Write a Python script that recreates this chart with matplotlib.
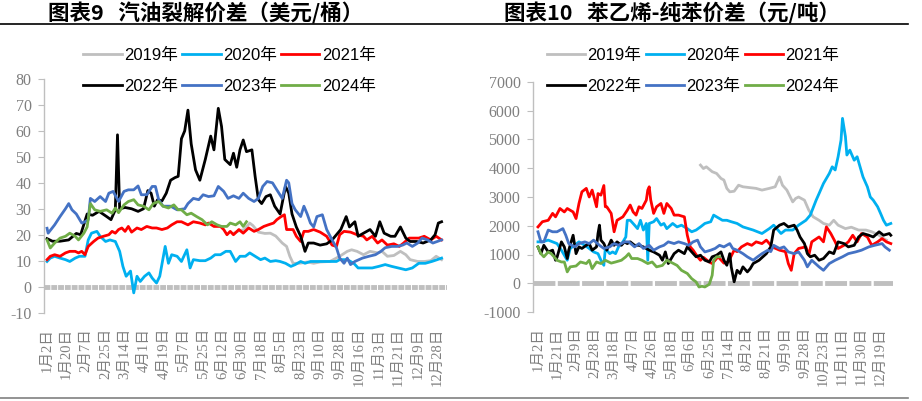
import numpy as np
import matplotlib.pyplot as plt
from matplotlib.lines import Line2D

plt.rcParams['axes.unicode_minus'] = False

# ---------------- data ----------------
years = ['2019年', '2020年', '2021年', '2022年', '2023年', '2024年']
colors = ['#BFBFBF', '#00B0F0', '#FF0000', '#000000', '#4472C4', '#70AD47']

# 图表9 汽油裂解价差 (美元/桶), x = days since 1月2日
gas_labels = ['1月2日', '1月20日', '2月7日', '2月25日', '3月14日', '4月1日', '4月19日',
              '5月7日', '5月25日', '6月12日', '6月30日', '7月18日', '8月5日', '8月23日',
              '9月10日', '9月28日', '10月16日', '11月3日', '11月21日', '12月9日', '12月28日']
gas_label_step = 18

gas_days_2019 = [172, 177, 182, 187, 190, 195, 201, 206, 211, 217, 221, 224, 227, 233, 240, 246,
                 252, 261, 270, 277, 281, 286, 292, 298, 305, 309, 314, 320, 326, 331, 335, 342,
                 348, 354, 359, 364]
gas_2019 = [20.5, 21.5, 22, 24.5, 23.5, 21, 20.5, 20.6, 19.5, 16.8, 15.5, 11.7, 9, 9, 9.5, 9,
            9.5, 9.7, 11.7, 13.6, 14.2, 13.6, 12.3, 13.6, 13, 13.6, 11.7, 12, 13.6, 12.3, 10.4, 9.7,
            9.7, 10, 11.7, 10.4]

gas_days_2020 = [0, 3, 7, 12, 17, 21, 26, 30, 35, 38, 41, 46, 49, 54, 58, 63, 67, 70, 73, 77,
                 80, 83, 86, 90, 94, 97, 101, 104, 109, 112, 115, 120, 124, 129, 132, 135, 141,
                 146, 151, 155, 160, 165, 169, 174, 178, 183, 187, 192, 197, 201, 206, 211, 215,
                 220, 225, 229, 234, 238, 243, 255, 267, 270, 277, 283, 287, 294, 300, 306, 312,
                 318, 324, 331, 337, 343, 349, 355, 360, 364]
gas_2020 = [9.7, 11, 11.7, 11, 10.4, 9.7, 11, 11.7, 11.7, 18, 20.6, 21.3, 19.4, 17.4, 18, 17.4,
            13.6, 7.8, 4, 6, -2.4, 4, 2, 4, 5.3, 3.3, 1.4, 4, 15.5, 9, 12.3, 11.7, 9.7, 14.2, 7.2,
            10.4, 10, 10, 11, 12.3, 12.3, 13.6, 13.6, 9.7, 11.7, 11.7, 13, 11.7, 10.4, 11, 9.7, 10,
            9.7, 9, 7.8, 8.5, 9.7, 9, 9.7, 9.7, 9.7, 10.4, 10.4, 9, 7.2, 7.2, 7.2, 7.8, 8.5, 7.8,
            7.2, 6.5, 7.2, 9, 9, 9.7, 10.4, 11]

gas_days_2021 = [0, 3, 7, 12, 17, 21, 26, 29, 32, 35, 38, 43, 47, 52, 57, 60, 63, 66, 69, 72,
                 75, 78, 83, 87, 92, 97, 101, 106, 111, 115, 120, 124, 130, 135, 141, 146, 149,
                 154, 160, 163, 166, 169, 172, 177, 181, 186, 191, 195, 200, 204, 209, 212, 216,
                 219, 221, 227, 230, 234, 237, 241, 246, 252, 258, 263, 267, 270, 274, 280, 286,
                 292, 295, 300, 305, 309, 314, 320, 325, 329, 334, 338, 343, 348, 354, 359, 364]
gas_2021 = [10.4, 11.7, 12.3, 11.7, 13, 13.6, 13.6, 13, 13.6, 12.3, 15.5, 17.4, 18.7, 19.4, 20,
            21.3, 20.6, 22, 22.6, 21.3, 23.2, 21, 22.6, 22, 23.2, 22.6, 22.6, 22, 22.6, 23.8, 25,
            25, 23.8, 25, 24.5, 23.8, 24.5, 23.2, 23.2, 22, 20, 21.3, 20, 22, 20.6, 22.6, 21.3,
            22, 23.2, 23.8, 24.5, 25.8, 27, 27.7, 22, 22, 19.4, 17.4, 21.3, 21.3, 22, 21, 19.4,
            16, 15.5, 20, 21.3, 21, 20, 19.4, 18, 19.4, 16.8, 18, 16, 16.5, 15.5, 16.8, 18.7,
            18.7, 18.7, 19.4, 18, 19.4, 18]

gas_days_2022 = [0, 5, 12, 20, 27, 31, 37, 42, 48, 55, 59, 63, 65, 67, 72, 78, 84, 89, 93, 96,
                 99, 102, 106, 110, 114, 118, 121, 124, 127, 130, 133, 137, 141, 146, 151, 154,
                 158, 161, 164, 169, 172, 175, 178, 181, 184, 189, 192, 195, 198, 202, 206, 210,
                 215, 220, 223, 226, 230, 234, 238, 241, 246, 252, 258, 263, 267, 271, 276, 279,
                 284, 287, 292, 298, 303, 307, 311, 317, 321, 326, 331, 335, 341, 347, 354, 358,
                 361, 364]
gas_2022 = [18.5, 17.5, 17.5, 18, 20.5, 20, 28, 27.5, 29, 27, 25.8, 29.6, 58.5, 30, 30.5, 30,
            29, 30, 37, 36, 31, 33.5, 33, 36, 41, 42, 42.5, 57, 60, 68, 55, 45, 41, 49, 58, 52.7,
            68.7, 61.7, 49, 47, 51.4, 46, 52.7, 56.5, 52, 52.7, 42.4, 33.5, 32, 34.7, 35.4, 31,
            28, 38.6, 36, 28, 23, 19.4, 13.6, 16.8, 16.8, 16, 16.5, 18, 20, 22, 27, 23, 25,
            19.4, 20.6, 22, 19.4, 25, 20.6, 19.4, 19.4, 23, 18.7, 17.4, 17.4, 16.8, 18, 20,
            24.5, 25]

gas_days_2023 = [0, 1, 7, 12, 17, 20, 23, 27, 32, 35, 38, 40, 44, 49, 54, 57, 61, 66, 71, 75,
                 80, 84, 87, 92, 97, 100, 103, 107, 114, 120, 127, 130, 135, 140, 144, 149, 154,
                 158, 163, 167, 172, 177, 181, 186, 191, 195, 199, 203, 208, 212, 217, 221, 223,
                 226, 229, 234, 237, 240, 243, 246, 249, 254, 258, 263, 267, 270, 274, 277, 280,
                 284, 291, 297, 303, 308, 312, 318, 323, 328, 332, 337, 342, 346, 351, 356, 360,
                 364]
gas_2023 = [22.5, 20.6, 23.8, 27, 30, 32, 29.6, 28, 24.5, 25, 25.8, 34, 32.8, 34.7, 32.8, 36,
            36.7, 32.8, 36.7, 37.3, 37.3, 38.8, 35.4, 35.4, 38.6, 38.6, 33.5, 31, 31, 29.6, 30,
            32, 34, 33.5, 35.4, 34.7, 35, 38.6, 36.7, 34, 35, 34, 36, 34, 32.8, 34, 38.6, 40.5,
            40, 37.3, 34, 41, 40, 32, 29.6, 27, 31, 28, 24.5, 23, 27, 27.7, 22, 18, 15, 11, 9,
            11, 8.5, 9.7, 11, 11.7, 12.3, 13.6, 15, 15.5, 15.5, 16, 16.8, 15.5, 16.8, 18.7, 18,
            16.8, 17.4, 18]

gas_days_2024 = [0, 3, 7, 12, 17, 21, 26, 29, 34, 37, 40, 44, 49, 55, 60, 63, 66, 71, 75, 80,
                 84, 89, 94, 98, 103, 107, 112, 117, 121, 124, 129, 133, 138, 143, 148, 152, 157,
                 161, 166, 169, 174, 178, 181, 184]
gas_2024 = [18, 14.9, 16.8, 18.7, 19.4, 20.6, 19.4, 18, 20.6, 23, 32, 29.6, 29, 29.6, 28.3,
            30.3, 28.5, 31.5, 32.8, 33.5, 31.5, 31, 29.6, 32, 32.8, 31, 30.3, 31.5, 29.6, 29.6,
            27.7, 28.3, 27, 25.8, 23.8, 25, 23.8, 23.2, 23.2, 24.5, 23.8, 25, 23.2, 25]

# 图表10 苯乙烯-纯苯价差 (元/吨), x = trading day index
sty_labels = ['1月2日', '1月21日', '2月9日', '2月28日', '3月18日', '4月7日', '4月26日',
              '5月18日', '6月6日', '6月25日', '7月14日', '8月2日', '8月21日', '9月9日',
              '9月28日', '10月23日', '11月11日', '11月30日', '12月19日']
sty_label_step = 13

sty_idx_2019 = [111, 113, 115, 119, 122, 125, 127, 129, 131, 134, 137, 140, 144, 149, 153, 158,
                162, 165, 167, 170, 174, 176, 178, 182, 185, 188, 192, 195, 199, 202, 205, 210,
                214, 219, 224, 228, 233, 236, 238]
sty_2019 = [4110, 3990, 4050, 3880, 3820, 3645, 3590, 3300, 3180, 3200, 3410, 3355, 3330, 3300,
            3240, 3300, 3355, 3700, 3410, 3240, 2830, 2950, 3000, 2890, 2540, 2310, 2190, 2080,
            2020, 2190, 2020, 1900, 1950, 1850, 1850, 1790, 1670, 1555, 1500]

sty_idx_2020 = [0, 3, 7, 10, 13, 16, 18, 20, 22, 25, 28, 32, 35, 38, 41, 43, 45, 46, 49, 51,
                53, 55, 58, 60, 61, 63, 66, 68, 70, 72, 74, 75, 76, 79, 81, 84, 86, 88, 92, 95,
                98, 102, 105, 108, 111, 114, 118, 120, 122, 126, 129, 132, 136, 140, 147, 153,
                158, 161, 166, 169, 174, 178, 183, 186, 190, 192, 195, 199, 201, 203, 205, 207,
                208, 210, 211, 213, 216, 218, 220, 222, 225, 227, 229, 232, 234, 236, 238, 241]
sty_2020 = [1440, 1440, 1500, 1440, 1380, 1150, 975, 800, 1210, 1320, 1440, 1320, 1210, 1090,
            1030, 800, 625, 1210, 1030, 1090, 1030, 1265, 1440, 1610, 2190, 2190, 2020, 1900,
            2190, 1850, 2080, 800, 2080, 2140, 2250, 2020, 2080, 1900, 2080, 1960, 2020, 1900,
            1790, 1850, 1960, 2080, 2140, 2370, 2310, 2190, 2190, 2140, 2080, 1960, 1850, 1730,
            1900, 2020, 1730, 1850, 1850, 2020, 2190, 2370, 2890, 3120, 3470, 3820, 4050, 3940,
            4400, 4980, 5735, 5100, 4460, 4630, 4280, 4400, 4050, 3700, 3355, 3000, 2890, 2660,
            2430, 2190, 2020, 2080]

sty_idx_2021 = [0, 3, 7, 10, 12, 15, 18, 20, 24, 26, 28, 30, 33, 35, 37, 40, 41, 43, 45, 46,
                47, 50, 52, 54, 58, 61, 63, 65, 67, 69, 71, 74, 75, 76, 77, 79, 81, 84, 86, 88,
                91, 93, 96, 100, 102, 104, 106, 109, 111, 113, 117, 119, 121, 123, 127, 130, 134,
                136, 139, 143, 146, 149, 153, 156, 160, 165, 169, 171, 173, 175, 178, 183, 185,
                187, 192, 195, 197, 200, 203, 205, 209, 212, 215, 218, 221, 225, 228, 232, 235,
                238, 241]
sty_2021 = [1960, 2140, 2190, 2430, 2310, 2600, 2480, 2600, 2480, 2250, 2775, 3180, 3300, 3000,
            3240, 2660, 3120, 3065, 3400, 2660, 2660, 2430, 1790, 2190, 2310, 2540, 2720, 2480,
            2370, 2660, 2600, 2890, 3240, 3355, 2900, 2430, 2660, 2775, 2430, 2775, 2600, 2370,
            2370, 2310, 1670, 1265, 1150, 920, 800, 900, 740, 685, 800, 920, 700, 740, 1150,
            1100, 1265, 1380, 1320, 1440, 1380, 1500, 1265, 1150, 1100, 685, 450, 1030, 1210,
            1265, 975, 1440, 1610, 1440, 1960, 1730, 1440, 1210, 1320, 1440, 1670, 1440, 1730,
            1610, 1320, 1440, 1555, 1440, 1380]

sty_idx_2022 = [0, 2, 4, 7, 10, 12, 13, 16, 18, 20, 21, 24, 26, 28, 30, 33, 35, 37, 40, 41, 42,
                43, 45, 47, 50, 52, 54, 57, 59, 61, 63, 66, 69, 72, 76, 79, 83, 85, 87, 89, 93,
                96, 100, 102, 105, 108, 111, 114, 117, 119, 122, 125, 127, 129, 131, 132, 134,
                136, 138, 140, 143, 145, 147, 151, 156, 159, 161, 165, 168, 171, 175, 177, 179,
                182, 184, 186, 189, 192, 195, 199, 202, 205, 209, 212, 216, 219, 222, 226, 229,
                233, 236, 240, 241]
sty_2022 = [1265, 1030, 1320, 1090, 1150, 800, 900, 1440, 1265, 860, 1150, 1670, 1030, 1265,
            1210, 1320, 1380, 1150, 1265, 1730, 2020, 1500, 1380, 1150, 1500, 1320, 1440, 1320,
            1440, 1380, 1440, 1320, 1320, 1265, 1150, 1090, 975, 800, 1090, 685, 1030, 1150,
            1030, 1265, 1090, 920, 975, 800, 740, 920, 975, 1090, 800, 625, 1030, 570, 50, 450,
            340, 570, 395, 510, 685, 800, 1030, 1265, 1850, 2020, 2080, 1960, 2020, 1850, 1610,
            1380, 1030, 920, 975, 800, 860, 1090, 1030, 1440, 1380, 1265, 1320, 1610, 1730, 1670,
            1610, 1790, 1670, 1730, 1670]

sty_idx_2023 = [0, 2, 4, 7, 10, 13, 17, 19, 21, 25, 28, 32, 35, 38, 42, 45, 49, 52, 55, 59, 62,
                66, 69, 72, 76, 79, 83, 86, 89, 93, 96, 100, 103, 106, 109, 111, 114, 118, 121,
                124, 127, 131, 133, 136, 140, 143, 147, 150, 153, 157, 159, 161, 165, 168, 171,
                175, 178, 182, 184, 187, 192, 195, 199, 203, 208, 212, 217, 221, 226, 230, 235,
                237, 240]
sty_2023 = [1790, 1440, 1440, 1850, 1790, 1790, 1900, 1670, 1380, 1265, 1380, 1440, 1380, 1500,
            1320, 1210, 1265, 1380, 1320, 1440, 1440, 1265, 1380, 1210, 1320, 1150, 1265, 1320,
            1440, 1380, 1440, 1380, 1320, 1440, 1500, 1265, 1090, 1150, 1210, 1320, 1265, 1380,
            1210, 1150, 1030, 920, 800, 920, 1030, 1150, 1100, 1320, 1210, 1265, 1090, 1030,
            1090, 800, 570, 800, 570, 450, 685, 800, 920, 1030, 1090, 1150, 1265, 1320, 1380,
            1265, 1150]

sty_idx_2024 = [0, 2, 4, 7, 9, 11, 13, 16, 18, 20, 22, 26, 29, 33, 35, 37, 40, 43, 46, 50, 53,
                57, 60, 62, 64, 68, 71, 75, 78, 81, 85, 88, 92, 95, 98, 102, 105, 108, 110, 112,
                114, 117, 119, 120, 122, 124]
sty_2024 = [1265, 1030, 920, 1090, 1030, 920, 800, 740, 740, 395, 570, 600, 740, 685, 800, 510,
            740, 685, 800, 700, 740, 800, 920, 1030, 860, 860, 800, 685, 740, 570, 620, 800, 700,
            620, 450, 340, 160, 45, -130, -105, -130, -35, 280, 800, 920, 920]

gas_x = [gas_days_2019, gas_days_2020, gas_days_2021, gas_days_2022, gas_days_2023, gas_days_2024]
gas_y = [gas_2019, gas_2020, gas_2021, gas_2022, gas_2023, gas_2024]
sty_x = [sty_idx_2019, sty_idx_2020, sty_idx_2021, sty_idx_2022, sty_idx_2023, sty_idx_2024]
sty_y = [sty_2019, sty_2020, sty_2021, sty_2022, sty_2023, sty_2024]

# ---------------- drawing ----------------
W, H = 922, 401
fig = plt.figure(figsize=(W / 100, H / 100), dpi=100)

ax1 = fig.add_axes([44 / W, 1 - 312.6 / H, 403 / W, 233.6 / H])
ax2 = fig.add_axes([533 / W, 1 - 312 / H, 360 / W, 230 / H])

tick_font = ['Liberation Serif', 'Noto Sans CJK SC']
legend_font = {'family': ['Liberation Sans', 'Noto Sans CJK SC'], 'size': 12}


def style_axis(ax, xs, ys, labels, step, ylim, ystep, xlim, dash):
    # 0 轴: 灰色粗虚线
    ax.axhline(0, color='#BFBFBF', lw=3.5, ls=(0, dash), zorder=1)
    lines = []
    for x, y, c, name in zip(xs, ys, colors, years):
        ln, = ax.plot(x, y, color=c, lw=2.0, label=name, zorder=2,
                      solid_joinstyle='round')
        lines.append(ln)
    ax.set_xlim(*xlim)
    ax.set_ylim(*ylim)
    ax.set_yticks(np.arange(ylim[0], ylim[1] + 1, ystep))
    ax.set_xticks(np.arange(len(labels)) * step)
    ax.set_xticklabels(labels, rotation=90)
    for s in ['top', 'right', 'bottom']:
        ax.spines[s].set_visible(False)
    ax.spines['left'].set_color('#BFBFBF')
    ax.spines['left'].set_linewidth(1.0)
    ax.tick_params(axis='y', direction='out', length=4, color='#BFBFBF',
                   labelcolor='#7F7F7F', labelsize=11.5, pad=5)
    ax.tick_params(axis='x', length=0, labelcolor='#7F7F7F', labelsize=10.5, pad=11)
    for t in ax.get_yticklabels():
        t.set_fontfamily(['Liberation Serif'])
    for t in ax.get_xticklabels():
        t.set_fontfamily(tick_font)
    ax.patch.set_alpha(0)
    return lines


lines1 = style_axis(ax1, gas_x, gas_y, gas_labels, gas_label_step, (-10, 80), 10,
                    (-2.8, 369), (1.2, 0.2))
lines2 = style_axis(ax2, sty_x, sty_y, sty_labels, sty_label_step, (-1000, 7000), 1000,
                    (-3.4, 242.5), (4.5, 0.5))

# 图例两行三列 (按列填充, 所以重排)
order = [0, 3, 1, 4, 2, 5]
for lines, cx in [(lines1, 229.5), (lines2, 693)]:
    fig.legend([lines[i] for i in order], [years[i] for i in order], ncol=3,
               loc='center', bbox_to_anchor=(cx / W, 1 - 71 / H), frameon=False,
               prop=legend_font, handlelength=2.3, handletextpad=0.15,
               columnspacing=0.25, labelspacing=0.95, borderpad=0)

title_font = ['Noto Sans CJK SC']
fig.text(206 / W, 1 - 13.5 / H, '图表9   汽油裂解价差（美元/桶）', ha='center', va='center',
         fontsize=15.5, fontweight='bold', family=title_font)
fig.text(672 / W, 1 - 13.5 / H, '图表10   苯乙烯-纯苯价差（元/吨）', ha='center', va='center',
         fontsize=15.5, fontweight='bold', family=title_font)

fig.add_artist(Line2D([0, 908 / W], [1 - 23.5 / H] * 2, color='black', lw=1.2))
fig.add_artist(Line2D([0, 908 / W], [1 - 398 / H] * 2, color='#808080', lw=1.2))

fig.savefig('out.png', dpi=100)
